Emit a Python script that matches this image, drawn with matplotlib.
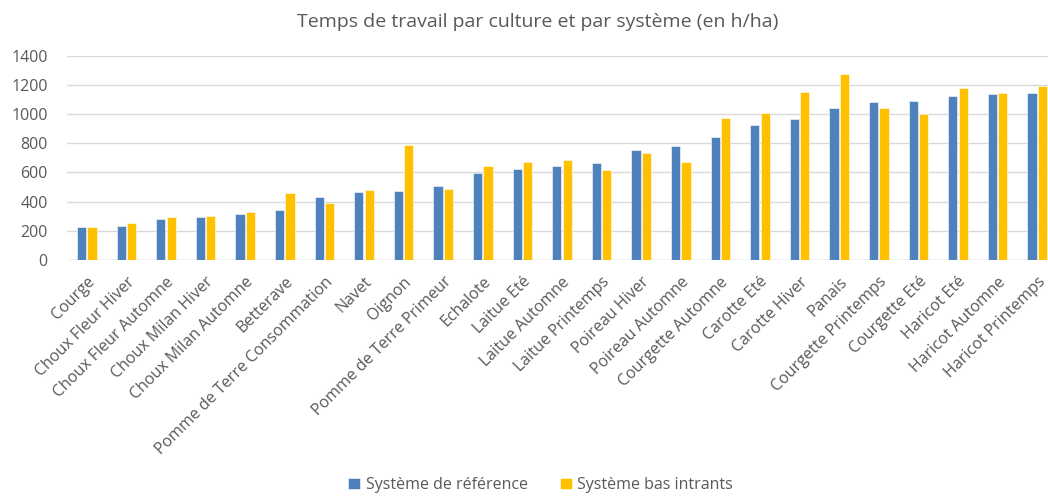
import numpy as np
import matplotlib.pyplot as plt

plt.rcParams['font.family'] = ['Open Sans', 'DejaVu Sans']

# data (h/ha)
cultures = [
    "Courge", "Choux Fleur Hiver", "Choux Fleur Automne", "Choux Milan Hiver",
    "Choux Milan Automne", "Betterave", "Pomme de Terre Consommation", "Navet",
    "Oignon", "Pomme de Terre Primeur", "Echalote", "Laitue Eté", "Laitue Automne",
    "Laitue Printemps", "Poireau Hiver", "Poireau Automne", "Courgette Automne",
    "Carotte Eté", "Carotte Hiver", "Panais", "Courgette Printemps", "Courgette Eté",
    "Haricot Eté", "Haricot Automne", "Haricot Printemps",
]
systeme_reference = [224, 235, 281, 297, 317, 345, 429, 466, 473, 507, 594, 623, 642,
                     662, 753, 779, 845, 922, 968, 1041, 1080, 1087, 1123, 1135, 1142]
systeme_bas_intrants = [224, 256, 297, 304, 327, 457, 390, 480, 788, 489, 644, 671, 685,
                        616, 733, 671, 973, 1007, 1151, 1272, 1039, 1002, 1176, 1146, 1192]
series_labels = ["Système de référence", "Système bas intrants"]

BLUE = '#4F81BD'
YELLOW = '#FFC000'
GREY_TXT = '#595959'

fig = plt.figure(figsize=(10.48, 4.96), dpi=100)
ax = fig.add_axes([67 / 1048, 1 - 260 / 496, 990 / 1048, 204.3 / 496])

x = np.arange(len(cultures))
w = 0.23
ax.bar(x - 0.13, systeme_reference, w, color=BLUE, edgecolor='white', linewidth=0.4,
       label=series_labels[0], zorder=3)
ax.bar(x + 0.13, systeme_bas_intrants, w, color=YELLOW, edgecolor='white', linewidth=0.4,
       label=series_labels[1], zorder=3)

ax.set_xlim(-0.5, len(cultures) - 0.5)
ax.set_ylim(0, 1400)
ax.set_yticks(range(0, 1401, 200))
ax.yaxis.grid(True, color='#D9D9D9', linewidth=1, zorder=0)
for s in ax.spines.values():
    s.set_visible(False)
ax.axhline(0, color='#D9D9D9', linewidth=1, zorder=2)
ax.tick_params(axis='both', length=0, colors=GREY_TXT, labelsize=11.5)
ax.tick_params(axis='y', pad=14)
ax.set_xticks(x)
ax.set_xticklabels(cultures, rotation=45, ha='right', rotation_mode='anchor')
ax.tick_params(axis='x', pad=10)

fig.text(0.513, 0.955, "Temps de travail par culture et par système (en h/ha)",
         ha='center', va='center', fontsize=14, color=GREY_TXT)

fig.legend(loc='center', bbox_to_anchor=(0.516, 0.022), ncol=2, frameon=False,
           fontsize=11.5, labelcolor=GREY_TXT, handlelength=0.75, handleheight=0.75,
           handletextpad=0.35, columnspacing=2.0)

fig.savefig('out.png', dpi=100)
